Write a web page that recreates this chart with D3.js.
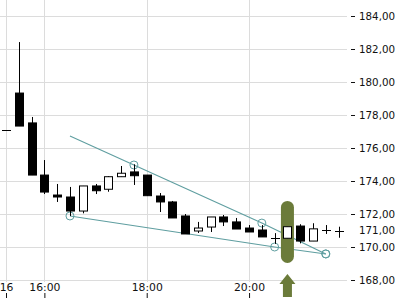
<!DOCTYPE html>
<html>
<head>
<meta charset="utf-8">
<script src="https://cdn.jsdelivr.net/npm/d3@7"></script>
<style>
  html, body { margin: 0; padding: 0; background: #fff; }
  svg { display: block; font-family: "DejaVu Sans", sans-serif; }
  .axis text { fill: #111; font-family: "DejaVu Sans", sans-serif; }
  .axis line { stroke: #111; }
  .axis .domain { display: none; }
</style>
</head>
<body>
<div id="chart"></div>
<script>
(function () {
  'use strict';

  // --- Data (15-minute candles) ---
  const times = ['15:15','15:30','15:45','16:00','16:15','16:30','16:45','17:00','17:15',
    '17:30','17:45','18:00','18:15','18:30','18:45','19:00','19:15','19:30','19:45',
    '20:00','20:15','20:30','20:45','21:00','21:15','21:30','21:45'];
  const opens  = [177.09,179.33,177.52,174.36,173.15,173.03,172.18,173.70,173.50,
    174.26,174.55,174.36,173.09,172.73,171.88,170.97,171.21,171.82,171.52,
    171.15,171.03,170.56,170.53,171.27,170.36,171.03,171.00];
  const highs  = [177.09,182.42,177.88,175.27,173.82,173.64,173.70,173.82,174.30,
    174.91,175.01,174.36,173.27,172.79,172.00,171.52,171.82,171.94,171.76,
    171.33,171.33,170.84,171.23,171.38,171.44,171.33,171.23];
  const lows   = [177.09,177.33,174.36,173.21,172.73,171.88,172.04,173.21,173.35,
    174.26,173.76,173.11,172.12,171.76,170.79,170.85,170.91,171.27,171.09,
    170.91,170.61,170.19,170.53,170.22,170.36,170.79,170.56];
  const closes = [177.09,177.33,174.36,173.33,173.03,172.18,173.70,173.41,174.26,
    174.47,174.32,173.11,172.73,171.76,170.79,171.15,171.82,171.52,171.09,
    170.91,170.61,170.56,171.23,170.36,171.10,171.03,171.00];

  // wedge drawing: upper and lower trend lines meeting at the apex
  const upperTimes  = ['16:30','17:45','20:15','21:30'];
  const upperPrices = [176.73,174.97,171.45,169.58];
  const upperMarked = [false,true,true,true];
  const lowerTimes  = ['16:30','20:30','21:30'];
  const lowerPrices = [171.88,170.00,169.58];

  const yTicks = [168,170,172,174,176,178,180,182,184];
  const xTickTimes = ['15:15','16:00','18:00','20:00'];
  const xTickLabels = ['16','16:00','18:00','20:00'];

  const highlightTime = '20:45';
  const highlightRange = [169.03, 172.79];

  // --- Setup ---
  const W = 400, H = 300;
  const FONT = '"DejaVu Sans", sans-serif';
  const parse = d3.timeParse('%H:%M');
  const fmtPrice = v => v.toFixed(2).replace('.', ',');

  const candles = times.map((t, i) => ({
    t: parse(t), o: opens[i], h: highs[i], l: lows[i], c: closes[i]
  }));

  const x = d3.scaleTime()
    .domain([parse('15:15'), parse('21:45')])
    .range([6, 338.6]);
  const y = d3.scaleLinear().domain([168, 184]).range([280, 16]);

  const svg = d3.select('#chart').append('svg')
    .attr('width', W).attr('height', H);

  const crisp = v => Math.round(v) + 0.5;

  // Grid
  const grid = svg.append('g').attr('stroke', '#dcdcdc').attr('stroke-width', 1);
  grid.selectAll('.hg').data(yTicks).join('line')
    .attr('x1', 0).attr('x2', 347)
    .attr('y1', d => crisp(y(d))).attr('y2', d => crisp(y(d)));
  grid.selectAll('.vg').data(xTickTimes).join('line')
    .attr('x1', d => crisp(x(parse(d)))).attr('x2', d => crisp(x(parse(d))))
    .attr('y1', 0).attr('y2', 282);

  // Axes
  svg.append('g').attr('class', 'axis')
    .attr('transform', 'translate(351,0)')
    .call(d3.axisRight(y).tickValues(yTicks).tickSize(4).tickPadding(4).tickFormat(fmtPrice))
    .attr('font-family', FONT).attr('font-size', 10.3);

  const last = candles[candles.length - 1];
  svg.append('text')
    .attr('x', 359).attr('y', y(last.c)).attr('dy', '0.32em')
    .attr('font-family', FONT).attr('font-size', 10.3).attr('fill', '#111')
    .text(fmtPrice(last.c));

  svg.append('g').attr('class', 'axis')
    .attr('transform', 'translate(0,298)')
    .call(d3.axisTop(x).tickValues(xTickTimes.map(parse)).tickSize(5).tickPadding(2)
      .tickFormat((d, i) => xTickLabels[i]))
    .attr('font-family', FONT).attr('font-size', 10.8);

  // Wedge lines
  const line = d3.line().x(d => x(d.t)).y(d => y(d.p));
  const teal = '#5f9ea0';
  const upper = upperTimes.map((t, i) => ({ t: parse(t), p: upperPrices[i], m: upperMarked[i] }));
  const lower = lowerTimes.map((t, i) => ({ t: parse(t), p: lowerPrices[i], m: true }));
  [upper, lower].forEach(pts => {
    svg.append('path').attr('d', line(pts))
      .attr('fill', 'none').attr('stroke', teal).attr('stroke-width', 1.1);
    svg.selectAll(null).data(pts.filter(d => d.m)).join('circle')
      .attr('cx', d => x(d.t)).attr('cy', d => y(d.p)).attr('r', 4)
      .attr('fill', 'none').attr('stroke', teal).attr('stroke-width', 1);
  });

  // Highlight marker + arrow
  const green = '#6b7b3a';
  const hx = x(parse(highlightTime));
  const hTop = y(highlightRange[1]), hBot = y(highlightRange[0]);
  svg.append('rect')
    .attr('x', hx - 6.5).attr('y', hTop).attr('width', 13).attr('height', hBot - hTop)
    .attr('rx', 6.5).attr('fill', green);
  const tipY = hBot + 11;
  svg.append('path')
    .attr('d', `M${hx},${tipY} L${hx + 8},${tipY + 10} L${hx + 4.5},${tipY + 10}
      L${hx + 4.5},${tipY + 23} L${hx - 4.5},${tipY + 23} L${hx - 4.5},${tipY + 10}
      L${hx - 8},${tipY + 10} Z`)
    .attr('fill', green);

  // Candles
  const cg = svg.append('g');
  const bodyW = 8;
  candles.forEach(d => {
    const cx = crisp(x(d.t));
    cg.append('line')
      .attr('x1', cx).attr('x2', cx)
      .attr('y1', y(d.h)).attr('y2', y(d.l))
      .attr('stroke', '#000').attr('stroke-width', 1);
    const top = y(Math.max(d.o, d.c)), bot = y(Math.min(d.o, d.c));
    if (Math.abs(d.o - d.c) < 0.02) {
      cg.append('line')
        .attr('x1', cx - 4.5).attr('x2', cx + 4.5)
        .attr('y1', crisp(top)).attr('y2', crisp(top))
        .attr('stroke', '#000').attr('stroke-width', 1);
    } else {
      cg.append('rect')
        .attr('x', cx - bodyW / 2).attr('y', top)
        .attr('width', bodyW).attr('height', Math.max(1, bot - top))
        .attr('fill', d.c > d.o ? '#fff' : '#000')
        .attr('stroke', '#000').attr('stroke-width', 1);
    }
  });
})();
</script>
</body>
</html>
